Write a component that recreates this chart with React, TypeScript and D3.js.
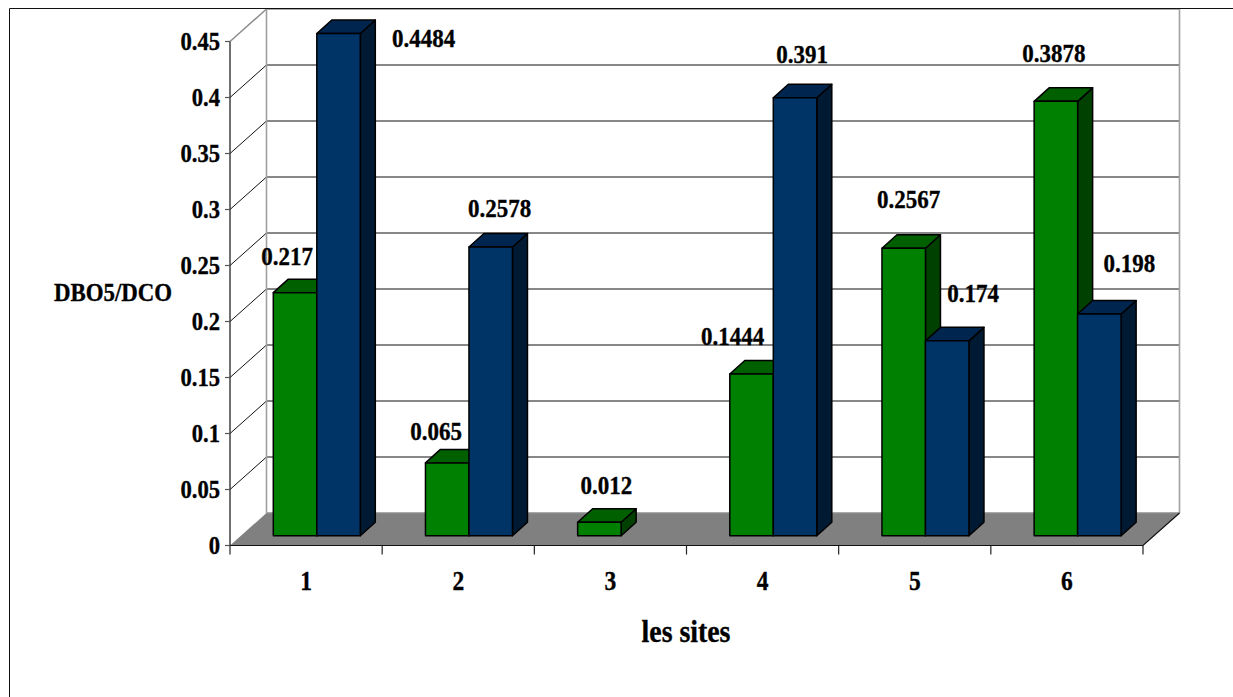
import React from "react";
import * as d3 from "d3";

const sites = ["1", "2", "3", "4", "5", "6"];
const greenValues: (number | null)[] = [0.217, 0.065, 0.012, 0.1444, 0.2567, 0.3878];
const blueValues: (number | null)[] = [0.4484, 0.2578, null, 0.391, 0.174, 0.198];
const yTicks = [0, 0.05, 0.1, 0.15, 0.2, 0.25, 0.3, 0.35, 0.4, 0.45];
const yTickLabels = ["0", "0.05", "0.1", "0.15", "0.2", "0.25", "0.3", "0.35", "0.4", "0.45"];
const yAxisTitle = "DBO5/DCO";
const xAxisTitle = "les sites";

// Hand-placed value labels, as offsets from the top centre of each bar.
const greenLabelOffsets = [[-8, -28], [-11, -23], [7, -28], [-19, -29], [5, -40], [-2, -39]];
const blueLabelOffsets = [[85, 13.5], [9, -30], [0, 0], [7, -35], [26, -39], [30, -42]];

const W = 1233;
const H = 697;
const FONT = "'Liberation Serif', serif";

// Oblique depth of the chart box, and of each bar inside it.
const BOX_DX = 36.5;
const BOX_DY = -32.5;
const BAR_DX = 15;
const BAR_DY = -13.5;

const x0 = d3.scaleBand<string>().domain(sites).range([230, 1143]);
const x1 = d3.scaleBand<string>().domain(["green", "blue"]).range([43.3, 130.3]);
const yAxis = d3.scaleLinear().domain([0, 0.45]).range([545.5, 41.5]);
const yBar = d3.scaleLinear().domain([0, 0.45]).range([535.7, 31.7]);

const poly = (pts: number[][]) => "M" + pts.map((p) => p.join(",")).join("L") + "Z";

function Text({ x, y, size, sx = 0.87, anchor = "middle", children }: any) {
  return (
    <text
      transform={`translate(${x},${y}) scale(${sx},1)`}
      textAnchor={anchor}
      fontFamily={FONT}
      fontWeight="bold"
      fontSize={size}
      fill="#000"
      stroke="#000"
      strokeWidth={0.35}
    >
      {children}
    </text>
  );
}

function Bar({ x, w, v, face, top, side }: any) {
  const yT = yBar(v);
  const yB = yBar(0);
  const r = x + w;
  return (
    <g stroke="#000" strokeWidth={1.5} strokeLinejoin="round">
      <path d={poly([[r, yT], [r + BAR_DX, yT + BAR_DY], [r + BAR_DX, yB + BAR_DY], [r, yB]])} fill={side} />
      <path d={poly([[x, yT], [x + BAR_DX, yT + BAR_DY], [r + BAR_DX, yT + BAR_DY], [r, yT]])} fill={top} />
      <rect x={x} y={yT} width={w} height={yB - yT} fill={face} />
    </g>
  );
}

export default function App() {
  const x = 230;
  const xR = 1143;
  const y00 = yAxis(0);
  const bw = x1.bandwidth();

  const labels: any[] = [];
  sites.forEach((s, i) => {
    const gx = x0(s)! + x1("green")! + bw / 2;
    const bx = x0(s)! + x1("blue")! + bw / 2;
    const g = greenValues[i];
    const b = blueValues[i];
    if (g !== null) labels.push({ v: g, x: gx + greenLabelOffsets[i][0], y: yBar(g) + greenLabelOffsets[i][1] });
    if (b !== null) labels.push({ v: b, x: bx + blueLabelOffsets[i][0], y: yBar(b) + blueLabelOffsets[i][1] });
  });

  return (
    <svg
      width={W}
      height={H}
      viewBox={`0 0 ${W} ${H}`}
      style={{ position: "absolute", left: 0, top: 0, background: "#fff" }}
    >
      {/* floor */}
      <path
        d={poly([[x, y00], [x + BOX_DX, y00 + BOX_DY], [xR + BOX_DX, y00 + BOX_DY], [xR, y00]])}
        fill="#808080"
      />

      {/* back and side wall grid */}
      {yTicks.map((t, i) => {
        const y = yAxis(t);
        const edge = i === 0 || i === yTicks.length - 1;
        const col = edge ? "#8c8c8c" : "#111";
        return (
          <g key={t} fill="none" strokeWidth={edge ? 1.5 : 1}>
            {i > 0 && <path d={`M${x},${y}L${x + BOX_DX},${y + BOX_DY}`} stroke={col} />}
            <path d={`M${x + BOX_DX},${y + BOX_DY}H${xR + BOX_DX}`} stroke={col} />
          </g>
        );
      })}
      <path
        d={`M${x + BOX_DX},${yAxis(0.45) + BOX_DY}V${y00 + BOX_DY}M${xR + BOX_DX},${yAxis(0.45) + BOX_DY}V${y00 + BOX_DY}`}
        stroke="#a0a0a0"
        strokeWidth={1.6}
        fill="none"
      />

      {/* outer frame */}
      <path d={`M9.5,${H}V8.5H${W}`} fill="none" stroke="#111" strokeWidth={1} />

      {/* front axes */}
      <path d={`M${x},${yAxis(0.45)}V${y00}H${xR}L${xR + BOX_DX},${y00 + BOX_DY}`} fill="none" stroke="#111" strokeWidth={1.2} />
      {yTicks.map((t) => (
        <path key={t} d={`M${x - 5},${yAxis(t)}H${x}`} stroke="#555" strokeWidth={1.2} />
      ))}
      {[...sites.map((s) => x0(s)!), xR].map((tx) => (
        <path key={tx} d={`M${tx},${y00}V${y00 + 9}`} stroke="#222" strokeWidth={1.2} />
      ))}

      {/* bars */}
      {sites.map((s, i) => {
        const g = greenValues[i];
        const b = blueValues[i];
        return (
          <g key={s}>
            {g !== null && (
              <Bar x={x0(s)! + x1("green")!} w={bw} v={g} face="#008000" top="#006000" side="#004000" />
            )}
            {b !== null && (
              <Bar x={x0(s)! + x1("blue")!} w={bw} v={b} face="#003366" top="#002650" side="#001a33" />
            )}
          </g>
        );
      })}

      {/* tick labels */}
      {yTicks.map((t, i) => (
        <Text key={t} x={220} y={yAxis(t) + 8} size={26} anchor="end">
          {yTickLabels[i]}
        </Text>
      ))}
      {sites.map((s) => (
        <Text key={s} x={x0(s)! + x0.bandwidth() / 2} y={590} size={27}>
          {s}
        </Text>
      ))}

      {/* value labels */}
      {labels.map((l) => (
        <Text key={l.v} x={l.x} y={l.y} size={25} sx={0.92}>
          {l.v}
        </Text>
      ))}

      {/* axis titles */}
      <Text x={113} y={301} size={26} sx={0.88}>
        {yAxisTitle}
      </Text>
      <Text x={686} y={642} size={32} sx={0.87}>
        {xAxisTitle}
      </Text>
    </svg>
  );
}
